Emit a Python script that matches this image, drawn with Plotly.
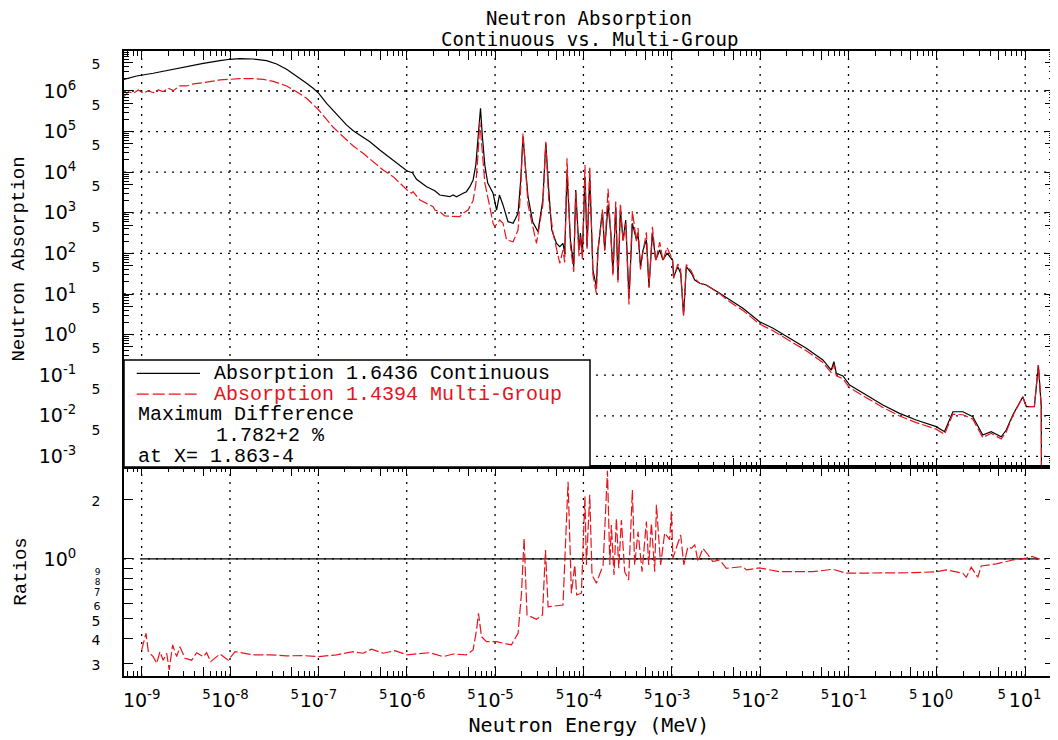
import plotly.graph_objects as go

# ---------------- data ----------------
energy_cont = [6.31e-10, 8.78e-10, 1.35e-9, 2.09e-9, 3.23e-9, 4.98e-9, 7.69e-9, 1.0e-8, 1.29e-8, 1.83e-8,
               2.59e-8, 3.37e-8, 4.37e-8, 5.66e-8, 7.36e-8, 8.73e-8, 1.01e-7, 1.24e-7, 1.47e-7, 1.75e-7,
               2.08e-7, 2.48e-7, 2.94e-7, 3.83e-7, 4.96e-7, 5.91e-7, 7.67e-7, 1.01e-6, 1.16e-6, 1.29e-6,
               1.68e-6, 1.99e-6, 2.08e-6, 2.37e-6, 3.07e-6, 3.35e-6, 3.66e-6, 4.35e-6, 4.74e-6, 5.18e-6,
               5.64e-6, 6.05e-6, 6.43e-6, 6.84e-6, 7.16e-6, 7.65e-6,
               8.26e-6, 9.49e-6, 1.04e-5, 1.12e-5, 1.23e-5, 1.40e-5, 1.60e-5, 1.82e-5, 1.95e-5, 2.07e-5,
               2.22e-5, 2.36e-5, 2.67e-5, 3.06e-5, 3.47e-5, 3.75e-5, 4.05e-5, 4.38e-5, 4.95e-5, 5.40e-5,
               5.87e-5, 6.14e-5, 6.52e-5, 7.13e-5, 7.77e-5, 8.18e-5, 8.91e-5, 9.25e-5, 9.75e-5, 1.04e-4,
               1.10e-4, 1.18e-4, 1.28e-4, 1.40e-4, 1.46e-4, 1.64e-4, 1.74e-4, 1.90e-4, 2.04e-4, 2.16e-4,
               2.32e-4, 2.46e-4, 2.62e-4, 2.81e-4, 3.01e-4, 3.28e-4, 3.58e-4, 3.98e-4, 4.15e-4, 4.42e-4,
               4.72e-4, 5.16e-4, 5.52e-4, 6.04e-4, 6.58e-4, 7.30e-4, 7.94e-4, 8.83e-4, 1.02e-3, 1.05e-3,
               1.17e-3, 1.26e-3, 1.36e-3, 1.46e-3, 1.67e-3, 1.82e-3, 2.07e-3, 2.46e-3, 3.48e-3, 4.52e-3,
               6.38e-3, 9.86e-3, 1.40e-2, 2.16e-2, 3.33e-2, 5.13e-2, 6.38e-2, 6.84e-2, 7.28e-2, 8.65e-2,
               0.103, 0.159, 0.245, 0.378, 0.585, 0.984, 1.22, 1.52, 1.97, 2.55,
               3.31, 4.12, 5.35, 6.10, 7.24, 9.40, 10.3, 12.7, 14.1, 15.2,
               15.3]
absorb_cont = [1.94e6, 2.34e6, 2.73e6, 3.29e6, 4.13e6, 4.81e6, 5.57e6, 6.04e6, 6.25e6, 6.14e6,
               5.57e6, 4.62e6, 3.42e6, 2.34e6, 1.55e6, 1.17e6, 8.78e5, 4.98e5, 3.27e5, 2.13e5,
               1.46e5, 1.05e5, 8.24e4, 5.64e4, 3.52e4, 2.65e4, 1.71e4, 1.07e4, 9.73e3, 6.68e3,
               4.40e3, 3.79e3, 3.50e3, 2.74e3, 2.49e3, 2.74e3, 2.49e3, 3.02e3, 3.31e3, 4.40e3,
               6.43e3, 1.50e4, 8.24e4, 3.75e5, 8.24e4, 1.50e4,
               5.42e3, 3.02e3, 1.17e3, 2.74e3, 1.56e3, 604, 551, 973, 6.43e3, 7.48e4,
               1.13e4, 2.49e3, 593, 342, 2.07e3, 5.15e4, 3.65e3, 377, 177, 146,
               177, 101, 9.40e3, 214, 47.0, 3.65e3, 121, 318, 102, 7.75e3,
               146, 7.75e3, 39.0, 15.1, 121, 1.06e3, 121, 1.6e3, 318, 32.4,
               1.41e3, 22.1, 1.17e3, 214, 665, 7.83, 551, 214, 313, 47.0,
               121, 214, 15.1, 313, 68.7, 121, 68.7, 101, 68.7, 26.7,
               47.0, 32.4, 3.04, 47.0, 32.4, 22.1, 18.4, 16.7, 10.4, 7.11,
               4.45, 2.08, 1.43, 0.811, 0.460, 0.237, 0.134, 0.215, 0.111, 0.0955,
               0.0574, 0.0325, 0.0185, 0.0115, 0.00789, 0.00540, 0.00406, 0.0126, 0.0126, 0.00950,
               0.00337, 0.00406, 0.00305, 0.00447, 0.0105, 0.0295, 0.0168, 0.0168, 0.178, 0.0168,
               1.0e-4]

energy_mg_low = [6.31e-10, 7.06e-10, 8.03e-10, 9.16e-10, 1.04e-9, 1.19e-9, 1.35e-9, 1.54e-9, 1.75e-9, 2.00e-9,
                 2.28e-9, 2.71e-9, 3.23e-9, 3.84e-9, 4.98e-9, 5.93e-9, 7.69e-9, 9.98e-9, 1.29e-8, 1.83e-8,
                 2.38e-8, 3.08e-8, 4.37e-8, 5.66e-8, 7.36e-8, 1.01e-7, 1.24e-7, 1.47e-7, 1.91e-7, 2.48e-7,
                 3.21e-7, 4.17e-7, 5.41e-7, 7.02e-7, 9.10e-7, 1.01e-6, 1.13e-6, 1.18e-6, 1.41e-6, 1.68e-6,
                 1.99e-6, 2.08e-6, 2.37e-6, 2.70e-6, 3.35e-6, 3.99e-6, 4.35e-6, 4.95e-6, 5.64e-6,
                 6.05e-6, 6.43e-6, 6.71e-6, 7.16e-6, 7.65e-6, 8.71e-6, 9.49e-6, 9.93e-6, 1.13e-5, 1.23e-5,
                 1.35e-5, 1.60e-5, 1.82e-5, 1.95e-5, 2.07e-5, 2.22e-5, 2.36e-5, 2.94e-5, 3.47e-5, 3.75e-5,
                 4.05e-5, 4.53e-5, 5.13e-5, 5.40e-5, 5.87e-5, 6.14e-5]
absorb_mg_low = [7.24e5, 9.61e5, 8.78e5, 1.06e6, 8.78e5, 1.02e6, 9.08e5, 1.06e6, 9.61e5, 1.17e6,
                 1.02e6, 1.33e6, 1.33e6, 1.49e6, 1.60e6, 1.73e6, 1.87e6, 1.94e6, 2.01e6, 2.01e6,
                 1.94e6, 1.73e6, 1.33e6, 9.61e5, 6.61e5, 3.40e5, 1.93e5, 1.28e5, 7.48e4, 4.42e4,
                 2.92e4, 1.82e4, 1.13e4, 7.75e3, 4.40e3, 3.65e3, 3.02e3, 3.31e3, 2.07e3, 1.71e3,
                 1.41e3, 1.17e3, 1.06e3, 834, 802, 802, 973, 1.17e3, 2.0e3,
                 5.0e3, 3.0e4, 1.75e5, 3.3e4, 5.5e3, 1.41e3, 551, 455, 665, 551,
                 214, 194, 377, 4.0e3, 9.0e4, 1.1e4, 1.56e3, 177, 1.56e3, 5.6e4,
                 2.07e3, 313, 91, 57, 121, 60]
absorb_mg_res = [2.20e4, 150, 35, 3.3e3, 85, 260, 70, 1.5e4, 130, 1.4e4,
                 30, 10.5, 110, 1.2e3, 115, 3.9e3, 300, 28, 1.9e3, 19,
                 1.7e3, 190, 550, 5.5, 1.1e3, 200, 420, 40, 110, 330,
                 14, 450, 63, 190, 65, 140, 70, 24, 55, 40,
                 2.9, 53, 36, 24, 18.4, 16.5, 10.2, 6.4, 3.95, 1.82,
                 1.24, 0.70, 0.40, 0.205, 0.116, 0.185, 0.096, 0.082, 0.049, 0.028,
                 0.016, 0.0099, 0.0068, 0.0047, 0.0035, 0.0110, 0.0106, 0.0083, 0.0029, 0.0037,
                 0.0027, 0.0040, 0.0100, 0.029, 0.0168, 0.017, 0.178, 0.017, 1.0e-4]
RES_START = energy_cont.index(6.52e-5)
energy_mg = energy_mg_low + energy_cont[RES_START:]
absorb_mg = absorb_mg_low + absorb_mg_res

energy_ratio = [1.00e-9, 1.12e-9, 1.19e-9, 1.35e-9, 1.48e-9, 1.61e-9, 1.75e-9, 1.92e-9, 2.05e-9, 2.24e-9,
                2.49e-9, 2.71e-9, 3.09e-9, 3.68e-9, 4.19e-9, 4.98e-9, 5.43e-9, 6.04e-9, 7.69e-9, 9.55e-9,
                1.14e-8, 1.83e-8, 2.82e-8, 4.37e-8, 6.73e-8, 1.01e-7, 1.61e-7, 2.48e-7, 3.21e-7, 4.00e-7,
                5.41e-7, 7.33e-7, 1.01e-6, 1.82e-6, 2.58e-6, 3.35e-6, 4.74e-6, 5.64e-6, 6.17e-6, 6.49e-6,
                7.02e-6, 8.00e-6, 1.04e-5, 1.53e-5, 1.82e-5, 1.99e-5, 2.13e-5, 2.22e-5, 2.30e-5, 2.94e-5,
                3.44e-5, 3.72e-5, 3.98e-5, 5.87e-5, 6.70e-5, 7.31e-5, 7.98e-5, 8.39e-5, 9.48e-5, 1.04e-4,
                1.08e-4, 1.18e-4, 1.25e-4, 1.40e-4, 1.67e-4, 1.87e-4, 1.99e-4, 2.07e-4, 2.22e-4, 2.36e-4,
                2.51e-4, 2.69e-4, 2.93e-4, 3.25e-4, 3.58e-4, 3.80e-4, 4.15e-4, 4.61e-4, 5.16e-4, 5.48e-4,
                5.88e-4, 6.41e-4, 6.70e-4, 7.48e-4, 8.31e-4, 9.46e-4, 9.89e-4, 1.03e-3, 1.13e-3, 1.26e-3,
                1.37e-3, 1.52e-3, 1.67e-3, 1.82e-3, 1.98e-3, 2.25e-3, 2.57e-3, 2.92e-3, 3.48e-3, 4.15e-3,
                6.38e-3, 6.98e-3, 9.86e-3, 1.66e-2, 3.96e-2, 6.67e-2, 9.44e-2, 0.225, 0.535, 1.00,
                1.28, 1.97, 2.15, 2.45, 2.91, 3.18, 4.70, 7.24, 10.3, 12.0, 14.5]
ratio_mg = [0.349, 0.423, 0.342, 0.323, 0.299, 0.342, 0.310, 0.336, 0.277, 0.370,
            0.323, 0.362, 0.317, 0.310, 0.338, 0.323, 0.338, 0.305, 0.333, 0.310,
            0.342, 0.330, 0.330, 0.326, 0.327, 0.323, 0.330, 0.342, 0.336, 0.352,
            0.336, 0.346, 0.330, 0.338, 0.323, 0.333, 0.330, 0.349, 0.440, 0.533,
            0.407, 0.384, 0.384, 0.370, 0.423, 0.673, 1.27, 0.673, 0.523, 0.498,
            0.523, 1.11, 0.575, 0.587, 2.44, 0.673, 0.933, 0.659, 0.673, 2.06,
            0.933, 2.10, 0.831, 0.755, 0.933, 2.77, 0.933, 1.48, 0.831, 1.60,
            0.898, 1.57, 0.863, 0.784, 2.22, 0.933, 1.37, 0.863, 1.54, 0.933,
            1.51, 0.863, 1.87, 0.933, 1.35, 1.25, 1.73, 1.01, 1.13, 1.32,
            0.933, 1.15, 1.13, 1.18, 0.969, 1.13, 1.05, 0.969, 0.988, 0.898,
            0.915, 0.881, 0.901, 0.863, 0.863, 0.888, 0.848, 0.848, 0.853, 0.863,
            0.881, 0.848, 0.809, 0.908, 0.809, 0.922, 0.944, 0.988, 1.01, 1.03,
            1.00]
unity_energy = [1.0e-9, 14.5]
unity_ratio = [1.0, 1.0]

# ---------------- ticks ----------------
PAD = "\u00a0" * 4
NB = "\u00a0"
X5 = NB + "<sup>5</sup>"
x_tickvals = [1e-9, 5e-9, 1e-8, 5e-8, 1e-7, 5e-7, 1e-6, 5e-6, 1e-5, 5e-5, 1e-4,
              5e-4, 1e-3, 5e-3, 1e-2, 5e-2, 1e-1, 5e-1, 1, 5, 10]
x_ticktext = ["10<sup>-9</sup>", X5, "10<sup>-8</sup>", X5,
              "10<sup>-7</sup>", X5, "10<sup>-6</sup>", X5,
              "10<sup>-5</sup>", X5, "10<sup>-4</sup>", X5,
              "10<sup>-3</sup>", X5, "10<sup>-2</sup>", X5,
              "10<sup>-1</sup>", X5, "10<sup>0</sup>", X5,
              "10<sup>1</sup>"]
x_decades = [1e-9, 1e-8, 1e-7, 1e-6, 1e-5, 1e-4, 1e-3, 1e-2, 1e-1, 1, 10]

S5 = "<span style='font-size:14px'>5</span>"
y_tickvals = [1e-3, 5e-3, 1e-2, 5e-2, 1e-1, 5e-1, 1, 5, 10, 50,
              100, 500, 1e3, 5e3, 1e4, 5e4, 1e5, 5e5, 1e6, 5e6]
y_ticktext = ["10<sup>-3</sup>" + PAD, S5, "10<sup>-2</sup>" + PAD, S5,
              "10<sup>-1</sup>" + PAD, S5, "10<sup>0</sup>" + PAD, S5,
              "10<sup>1</sup>" + PAD, S5, "10<sup>2</sup>" + PAD, S5,
              "10<sup>3</sup>" + PAD, S5, "10<sup>4</sup>" + PAD, S5,
              "10<sup>5</sup>" + PAD, S5, "10<sup>6</sup>" + PAD, S5]
y_decades = [1e-3, 1e-2, 1e-1, 1, 10, 100, 1e3, 1e4, 1e5, 1e6]

r_tickvals = [0.3, 0.4, 0.5, 0.6, 0.7, 0.8, 0.9, 1.0, 2.0]
r_ticktext = ["<span style='font-size:14px'>3</span>", "<span style='font-size:14px'>4</span>",
              "<span style='font-size:14px'>5</span>", "<span style='font-size:11px'>6</span>",
              "<span style='font-size:10px'>7</span>", "<span style='font-size:9px'>8</span>",
              "<span style='font-size:9px'>9</span>", "10<sup>0</sup>" + PAD,
              "<span style='font-size:14px'>2</span>"]


def minor_vals(lo, hi):
    vals = []
    for e in range(lo, hi + 1):
        for m in (2, 3, 4, 6, 7, 8, 9):
            vals.append(m * 10.0 ** e)
    return vals


TICKFONT = dict(family="DejaVu Sans", size=19, color="black")
MONO = "Liberation Mono"
SANSMONO = "DejaVu Sans Mono"
DOT = "2px,6px"
RED = "#e8141c"

# The page body has an 8px margin: the figure is sized so that it fills the
# 1058x740 window exactly.
W, H = 1050, 732

fig = go.Figure()
fig.add_trace(go.Scatter(x=energy_cont, y=absorb_cont, mode="lines",
                         line=dict(color="black", width=1.2),
                         name="Absorption 1.6436 Continuous", xaxis="x", yaxis="y",
                         showlegend=False))
fig.add_trace(go.Scatter(x=energy_mg, y=absorb_mg, mode="lines",
                         line=dict(color=RED, width=1.2, dash="10px,3px"),
                         name="Absorption 1.4394 Multi-Group", xaxis="x", yaxis="y",
                         showlegend=False))
fig.add_trace(go.Scatter(x=unity_energy, y=unity_ratio, mode="lines",
                         line=dict(color="black", width=1.2),
                         xaxis="x2", yaxis="y2", showlegend=False))
fig.add_trace(go.Scatter(x=energy_ratio, y=ratio_mg, mode="lines",
                         line=dict(color=RED, width=1.2, dash="10px,3px"),
                         xaxis="x2", yaxis="y2", showlegend=False))

SPLIT = 0.3344
XR = [-9.2, 1.326]
common_x = dict(type="log", range=XR, domain=[0, 1], ticks="inside", ticklen=9,
                tickwidth=1.2, tickcolor="black", mirror="allticks", showline=True,
                linecolor="black", linewidth=1.6, showgrid=False, zeroline=False,
                tickvals=x_tickvals, ticktext=x_ticktext, tickfont=TICKFONT, tickangle=0,
                minor=dict(tickmode="array", tickvals=minor_vals(-10, 1), ticks="inside",
                           ticklen=5, tickwidth=1, tickcolor="black", showgrid=False))
common_y = dict(type="log", ticks="inside", ticklen=9, tickwidth=1.2, tickcolor="black",
                mirror="allticks", showline=True, linecolor="black", linewidth=1.6,
                showgrid=False, zeroline=False, tickfont=TICKFONT, ticklabelstandoff=18,
                tickangle=0)

fig.update_layout(
    width=W, height=H,
    margin=dict(l=116, r=4, t=43, b=64, autoexpand=False),
    paper_bgcolor="white", plot_bgcolor="white",
    title=dict(text="Neutron Absorption", x=0.5, xref="paper", xanchor="center",
               y=1 - 10.5 / H, yref="container", yanchor="middle",
               font=dict(family=SANSMONO, size=19, color="black")),
    xaxis=dict(common_x, anchor="y", showticklabels=False),
    xaxis2=dict(common_x, anchor="y2", showticklabels=True, ticklabelstandoff=6,
                title=dict(text="Neutron Energy (MeV)", standoff=8,
                           font=dict(family=SANSMONO, size=20, color="black"))),
    yaxis=dict(common_y, domain=[SPLIT, 1], range=[-3.261, 6.985], anchor="x",
               tickvals=y_tickvals, ticktext=y_ticktext,
               minor=dict(tickmode="array", tickvals=minor_vals(-4, 6), ticks="inside",
                          ticklen=5, tickwidth=1, tickcolor="black", showgrid=False),
               title=dict(text="Neutron Absorption", standoff=12,
                          font=dict(family=MONO, size=19, color="black"))),
    yaxis2=dict(common_y, domain=[0, SPLIT], range=[-0.588, 0.462], anchor="x2",
                tickvals=r_tickvals, ticktext=r_ticktext,
                title=dict(text="Ratios", standoff=12,
                           font=dict(family=MONO, size=19, color="black"))),
)

shapes = []
# dotted decade grid lines
for xv in x_decades:
    shapes.append(dict(type="line", xref="x2", yref="paper", x0=xv, x1=xv, y0=0, y1=1,
                       line=dict(color="black", width=1.3, dash=DOT), layer="below"))
for yv in y_decades:
    shapes.append(dict(type="line", xref="paper", yref="y", x0=0, x1=1, y0=yv, y1=yv,
                       line=dict(color="black", width=1.3, dash=DOT), layer="below"))
shapes.append(dict(type="line", xref="paper", yref="y2", x0=0, x1=1, y0=1, y1=1,
                   line=dict(color="black", width=1.3, dash=DOT), layer="below"))
# legend box (paper fractions of the plot area)
PW, PH = 930.0, 625.0
LB_X1 = (590 - 124) / PW
LB_Y1 = (676 - 360) / PH
shapes.append(dict(type="rect", xref="paper", yref="paper", x0=0, x1=LB_X1, y0=SPLIT, y1=LB_Y1,
                   fillcolor="white", line=dict(color="black", width=1.5), layer="above"))
ROW = [(676 - y) / PH for y in (373.4, 394.1, 414.8, 435.5, 456.2)]
SX0, SX1 = (136.7 - 124) / PW, (200 - 124) / PW
shapes.append(dict(type="line", xref="paper", yref="paper", x0=SX0, x1=SX1, y0=ROW[0], y1=ROW[0],
                   line=dict(color="black", width=1.2), layer="above"))
shapes.append(dict(type="line", xref="paper", yref="paper", x0=SX0, x1=SX1, y0=ROW[1], y1=ROW[1],
                   line=dict(color=RED, width=1.2, dash="12px,4px"), layer="above"))
fig.update_layout(shapes=shapes)

LFONT = dict(family=MONO, size=20, color="black")
TX = (213.3 - 124) / PW
TX0 = (137.3 - 124) / PW
ann = [
    dict(text="Absorption 1.6436 Continuous", x=TX, y=ROW[0], font=LFONT),
    dict(text="Absorption 1.4394 Multi-Group", x=TX, y=ROW[1], font=dict(LFONT, color=RED)),
    dict(text="Maximum Difference", x=TX0, y=ROW[2], font=LFONT),
    dict(text="1.782+2 %", x=(215 - 124) / PW, y=ROW[3], font=LFONT),
    dict(text="at X= 1.863-4", x=TX0, y=ROW[4], font=LFONT),
    dict(text="Continuous vs. Multi-Group", x=0.5, y=(676 - 39) / PH, xanchor="center",
         font=dict(family=SANSMONO, size=19, color="black")),
]
for a in ann:
    a.setdefault("xanchor", "left")
    fig.add_annotation(xref="paper", yref="paper", yanchor="middle", showarrow=False,
                       borderpad=0, **a)

fig.write_html("out.html")
